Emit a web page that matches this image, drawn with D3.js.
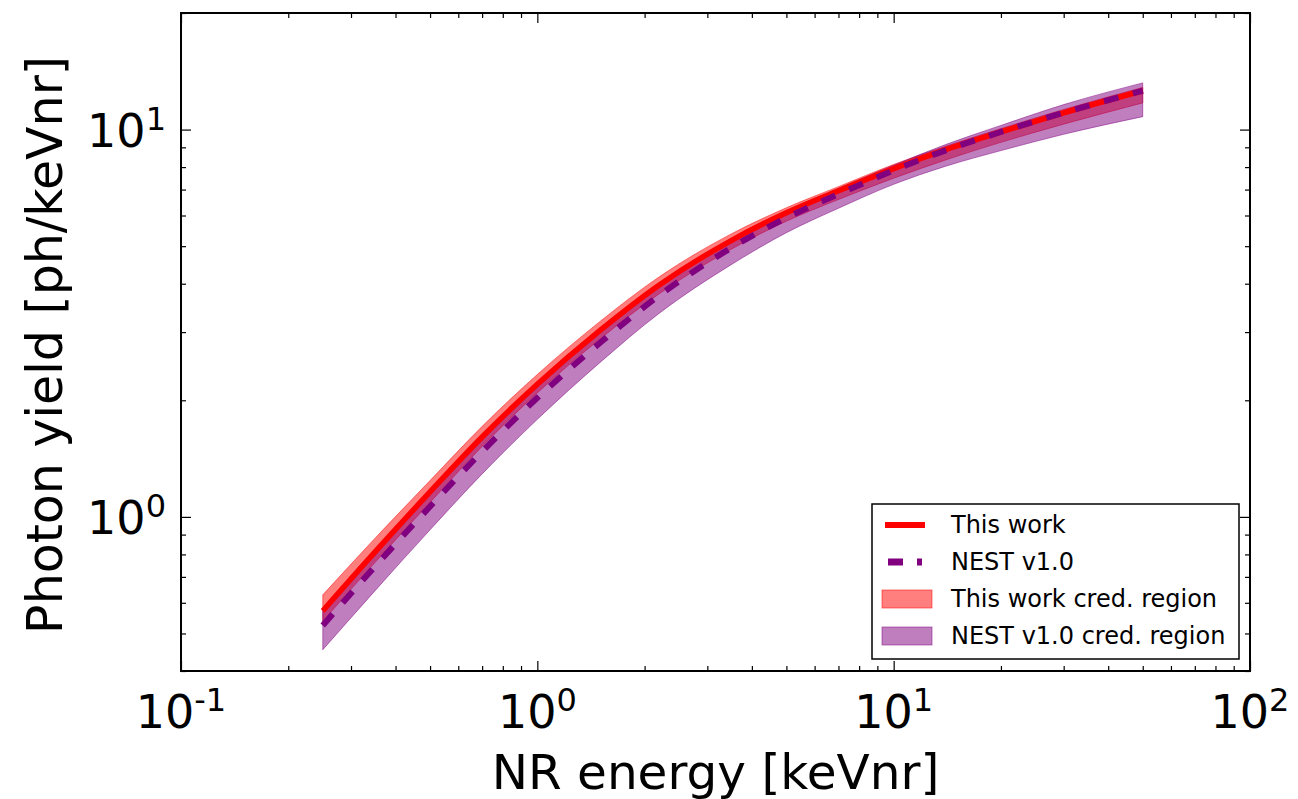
<!DOCTYPE html>
<html>
<head>
<meta charset="utf-8">
<script src="https://cdnjs.cloudflare.com/ajax/libs/d3/7.8.5/d3.min.js"></script>
<style>
  html, body { margin: 0; padding: 0; background: #fff; }
  svg { display: block; font-family: "DejaVu Sans", sans-serif; }
</style>
</head>
<body>
<svg id="chart" width="1298" height="799"></svg>
<script>
// ---- data ----
const energies   = [0.25, 0.35, 0.5, 0.7, 1, 1.5, 2.2, 3.5, 5, 7, 10, 14, 20, 30, 50];
const thisWork   = [0.572, 0.811, 1.160, 1.608, 2.20, 3.03, 3.97, 5.17, 6.10, 6.95, 7.93, 8.88, 9.86, 11.05, 12.6];
const thisWorkLo = [0.538, 0.762, 1.090, 1.520, 2.09, 2.88, 3.77, 4.91, 5.80, 6.60, 7.49, 8.35, 9.27, 10.33, 11.72];
const thisWorkHi = [0.629, 0.880, 1.241, 1.713, 2.332, 3.197, 4.169, 5.377, 6.283, 7.124, 8.128, 9.058, 10.06, 11.27, 12.85];
const nest       = [0.5245, 0.744, 1.064, 1.475, 2.03, 2.815, 3.73, 4.95, 5.92, 6.81, 7.85, 8.84, 9.86, 11.05, 12.6];
const nestLo     = [0.454, 0.644, 0.926, 1.291, 1.786, 2.505, 3.357, 4.480, 5.417, 6.265, 7.222, 8.044, 8.825, 9.724, 10.8];
const nestHi     = [0.572, 0.804, 1.144, 1.578, 2.162, 2.984, 3.935, 5.17, 6.16, 7.05, 8.09, 9.15, 10.25, 11.60, 13.2];
const xMajor = [0.1, 1, 10, 100];
const xMajorExp = ["-1", "0", "1", "2"];
const yMajor = [1, 10];
const yMajorExp = ["0", "1"];
const legendLabels = ["This work", "NEST v1.0", "This work cred. region", "NEST v1.0 cred. region"];

// ---- layout ----
const L = 181, R = 1250, T = 13, B = 671;
const svg = d3.select("#chart");
svg.append("rect").attr("width", 1298).attr("height", 799).attr("fill", "#fff");

const x = d3.scaleLog().domain([0.1, 100]).range([L, R]);
const y = d3.scaleLog().domain([0.4, 20]).range([B, T]);

const idx = d3.range(energies.length);
const area = (lo, hi) => d3.area()
  .x(i => x(energies[i])).y0(i => y(lo[i])).y1(i => y(hi[i]))
  .curve(d3.curveMonotoneX);
const line = (v) => d3.line().x(i => x(energies[i])).y(i => y(v[i])).curve(d3.curveMonotoneX);

const plot = svg.append("g");
plot.append("path").attr("d", area(thisWorkLo, thisWorkHi)(idx))
  .attr("fill", "rgba(255,0,0,0.5)").attr("stroke", "rgba(255,0,0,0.5)").attr("stroke-width", 1);
plot.append("path").attr("d", area(nestLo, nestHi)(idx))
  .attr("fill", "rgba(128,0,128,0.5)").attr("stroke", "rgba(128,0,128,0.5)").attr("stroke-width", 1);
plot.append("path").attr("d", line(thisWork)(idx))
  .attr("fill", "none").attr("stroke", "#ff0000").attr("stroke-width", 5.5);
plot.append("path").attr("d", line(nest)(idx))
  .attr("fill", "none").attr("stroke", "#800080").attr("stroke-width", 6)
  .attr("stroke-dasharray", "15,15");

// ---- axes (ticks inward on all sides) ----
const xMinor = [];
[0.1, 1, 10].forEach(d => { for (let k = 2; k <= 9; k++) xMinor.push(d * k); });
const yMinor = [0.4, 0.5, 0.6, 0.7, 0.8, 0.9, 2, 3, 4, 5, 6, 7, 8, 9, 20];

function styleAxis(g) {
  g.select(".domain").remove();
  g.selectAll("line").attr("stroke", "#000").attr("stroke-width", 1.2);
  g.selectAll("text").remove();
}
svg.append("g").attr("transform", `translate(0,${B})`)
  .call(d3.axisBottom(x).tickValues(xMajor).tickSize(-10).tickFormat("")).call(styleAxis);
svg.append("g").attr("transform", `translate(0,${B})`)
  .call(d3.axisBottom(x).tickValues(xMinor).tickSize(-5).tickFormat("")).call(styleAxis);
svg.append("g").attr("transform", `translate(0,${T})`)
  .call(d3.axisTop(x).tickValues(xMajor).tickSize(-10).tickFormat("")).call(styleAxis);
svg.append("g").attr("transform", `translate(0,${T})`)
  .call(d3.axisTop(x).tickValues(xMinor).tickSize(-5).tickFormat("")).call(styleAxis);
svg.append("g").attr("transform", `translate(${L},0)`)
  .call(d3.axisLeft(y).tickValues(yMajor).tickSize(-10).tickFormat("")).call(styleAxis);
svg.append("g").attr("transform", `translate(${L},0)`)
  .call(d3.axisLeft(y).tickValues(yMinor).tickSize(-5).tickFormat("")).call(styleAxis);
svg.append("g").attr("transform", `translate(${R},0)`)
  .call(d3.axisRight(y).tickValues(yMajor).tickSize(-10).tickFormat("")).call(styleAxis);
svg.append("g").attr("transform", `translate(${R},0)`)
  .call(d3.axisRight(y).tickValues(yMinor).tickSize(-5).tickFormat("")).call(styleAxis);

svg.append("rect").attr("x", L).attr("y", T).attr("width", R - L).attr("height", B - T)
  .attr("fill", "none").attr("stroke", "#000").attr("stroke-width", 2);

// ---- tick labels ----
const tickFont = 46, supFont = 32;
xMajor.forEach((v, i) => {
  const t = svg.append("text").attr("x", x(v)).attr("y", 728)
    .attr("text-anchor", "middle").attr("font-size", tickFont).attr("fill", "#000");
  t.append("tspan").text("10");
  t.append("tspan").attr("font-size", supFont).attr("dy", -17).text(xMajorExp[i]);
});
yMajor.forEach((v, i) => {
  const t = svg.append("text").attr("x", 166).attr("y", y(v) + 17)
    .attr("text-anchor", "end").attr("font-size", tickFont).attr("fill", "#000");
  t.append("tspan").text("10");
  t.append("tspan").attr("font-size", supFont).attr("dy", -17).text(yMajorExp[i]);
});

// ---- axis labels ----
svg.append("text").attr("x", (L + R) / 2).attr("y", 789).attr("text-anchor", "middle")
  .attr("font-size", 48.5).attr("fill", "#000").text("NR energy [keVnr]");
svg.append("text").attr("transform", `translate(62,${(T + B) / 2 + 3}) rotate(-90)`)
  .attr("text-anchor", "middle").attr("font-size", 49).attr("fill", "#000")
  .text("Photon yield [ph/keVnr]");

// ---- legend ----
const lg = svg.append("g");
lg.append("rect").attr("x", 872).attr("y", 504).attr("width", 367).attr("height", 155)
  .attr("fill", "#fff").attr("stroke", "#000").attr("stroke-width", 1.5);
const rowY = [525, 562, 599, 636];
lg.append("line").attr("x1", 885).attr("x2", 925).attr("y1", rowY[0]).attr("y2", rowY[0])
  .attr("stroke", "#ff0000").attr("stroke-width", 6);
lg.append("line").attr("x1", 888).attr("x2", 922).attr("y1", rowY[1]).attr("y2", rowY[1])
  .attr("stroke", "#800080").attr("stroke-width", 7).attr("stroke-dasharray", "15,14");
lg.append("rect").attr("x", 882).attr("y", rowY[2] - 9).attr("width", 50).attr("height", 18)
  .attr("fill", "rgba(255,0,0,0.5)").attr("stroke", "rgba(255,0,0,0.5)");
lg.append("rect").attr("x", 882).attr("y", rowY[3] - 9).attr("width", 50).attr("height", 18)
  .attr("fill", "rgba(128,0,128,0.5)").attr("stroke", "rgba(128,0,128,0.5)");
legendLabels.forEach((s, i) => {
  lg.append("text").attr("x", 951).attr("y", rowY[i] + 8).attr("font-size", 24)
    .attr("fill", "#000").text(s);
});
</script>
</body>
</html>
